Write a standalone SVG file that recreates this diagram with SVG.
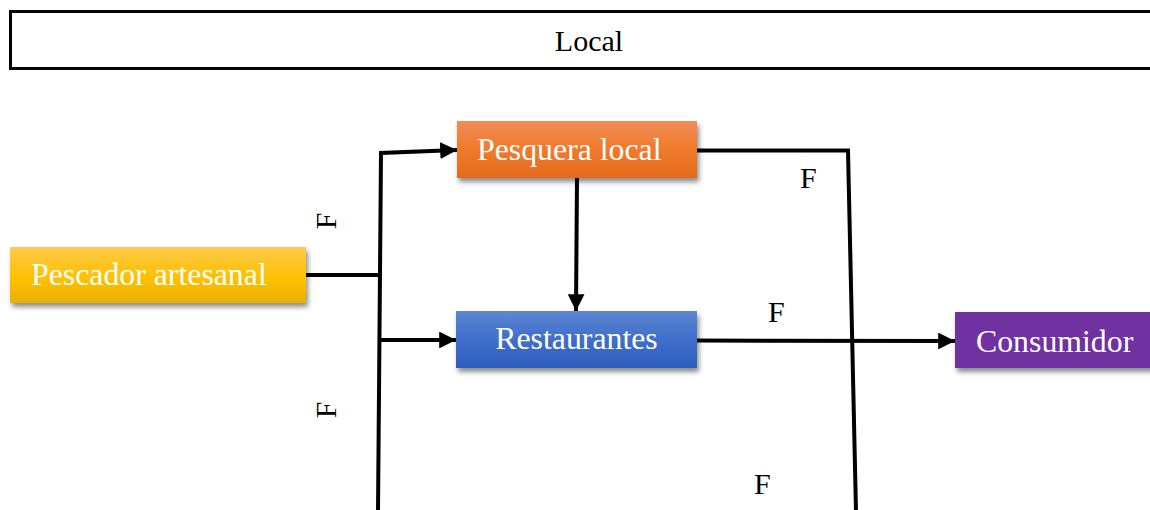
<svg xmlns="http://www.w3.org/2000/svg" width="1150" height="510" viewBox="0 0 1150 510">
  <defs>
    <style>
      .lbl { font-family: "Liberation Serif", "Times New Roman", serif; fill: #ffffff; font-size: 31.8px; }
      .f { font-family: "Liberation Serif", "Times New Roman", serif; fill: #000000; font-size: 30px; }
      .title { font-family: "Liberation Serif", "Times New Roman", serif; fill: #000000; font-size: 30px; }
      .ln { fill: none; stroke: #000000; stroke-width: 4; stroke-linejoin: miter; }
      .box { filter: url(#sh); }
    </style>
    <filter id="sh" x="-10%" y="-30%" width="125%" height="170%">
      <feDropShadow dx="2" dy="4" stdDeviation="2.5" flood-color="#000000" flood-opacity="0.45"/>
    </filter>
    <linearGradient id="gY" x1="0" y1="0" x2="0" y2="1">
      <stop offset="0" stop-color="#FFCA4C"/>
      <stop offset="0.55" stop-color="#FFC000"/>
      <stop offset="1" stop-color="#E8B200"/>
    </linearGradient>
    <linearGradient id="gO" x1="0" y1="0" x2="0" y2="1">
      <stop offset="0" stop-color="#F28D57"/>
      <stop offset="0.5" stop-color="#F07A2C"/>
      <stop offset="1" stop-color="#E36A1B"/>
    </linearGradient>
    <linearGradient id="gB" x1="0" y1="0" x2="0" y2="1">
      <stop offset="0" stop-color="#5D87D1"/>
      <stop offset="0.5" stop-color="#3F6ECB"/>
      <stop offset="1" stop-color="#2F5EBD"/>
    </linearGradient>
    <marker id="ah" viewBox="0 0 10 10" refX="10" refY="5" markerWidth="4.2" markerHeight="4.2" orient="auto" markerUnits="strokeWidth">
      <path d="M0,0 L10,5 L0,10 Z" fill="#000000"/>
    </marker>
  </defs>

  <rect width="1150" height="510" fill="#ffffff"/>

  <g id="title">
    <rect x="10.5" y="11.5" width="1160" height="57" fill="#ffffff" stroke="#000000" stroke-width="3"/>
    <text class="title" x="589" y="51" text-anchor="middle">Local</text>
  </g>

  <g id="connectors">
    <polyline class="ln" points="306,275 380,275"/>
    <polyline class="ln" points="378,512 381,153 457,150" marker-end="url(#ah)"/>
    <polyline class="ln" points="380,340 456,340" marker-end="url(#ah)"/>
    <polyline class="ln" points="577,178 576,311" marker-end="url(#ah)"/>
    <polyline class="ln" points="697,150.5 848,150.5 856,512"/>
    <polyline class="ln" points="697,340.5 955,341" marker-end="url(#ah)"/>
    <text class="f" transform="translate(336,221) rotate(-90)" text-anchor="middle">F</text>
    <text class="f" transform="translate(336,410) rotate(-90)" text-anchor="middle">F</text>
    <text class="f" x="800" y="188">F</text>
    <text class="f" x="768" y="322">F</text>
    <text class="f" x="754" y="494">F</text>
  </g>

  <g id="pescador">
    <rect class="box" x="10" y="247" width="296" height="56" fill="url(#gY)"/>
    <text class="lbl" x="31" y="285">Pescador artesanal</text>
  </g>

  <g id="pesquera">
    <rect class="box" x="457" y="121" width="240" height="57" fill="url(#gO)"/>
    <text class="lbl" x="477" y="160">Pesquera local</text>
  </g>

  <g id="restaurantes">
    <rect class="box" x="456" y="311" width="241" height="57" fill="url(#gB)"/>
    <text class="lbl" x="576.5" y="349" text-anchor="middle">Restaurantes</text>
  </g>

  <g id="consumidor">
    <rect class="box" x="955" y="312" width="200" height="56" fill="#7030A0"/>
    <text class="lbl" x="976" y="352">Consumidor</text>
  </g>
</svg>
